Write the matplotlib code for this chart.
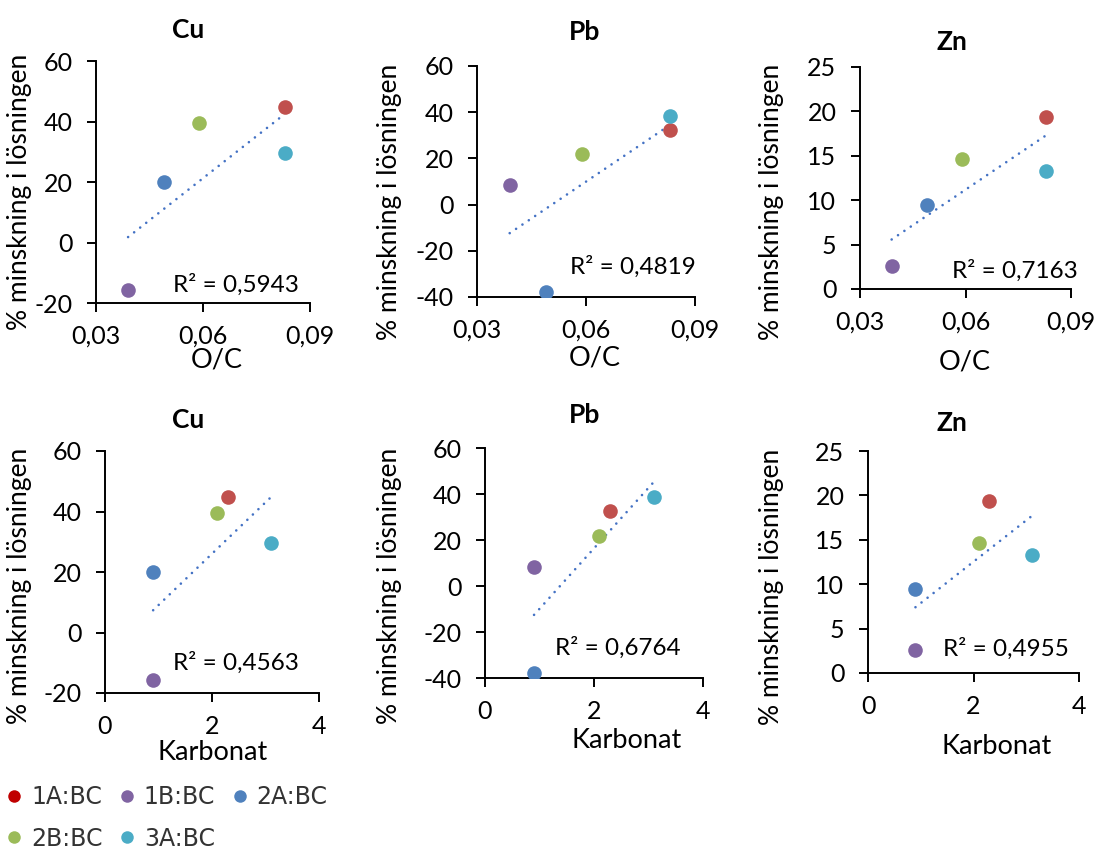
import numpy as np
import matplotlib
matplotlib.use("Agg")
import matplotlib.pyplot as plt
from matplotlib.lines import Line2D

plt.rcParams['font.family'] = ['Lato', 'DejaVu Sans']
plt.rcParams['axes.unicode_minus'] = False

# ---- data ----
samples = ["1A:BC", "1B:BC", "2A:BC", "2B:BC", "3A:BC"]
colors = ["#C0504D", "#8064A2", "#4F81BD", "#9BBB59", "#4BACC6"]
legend_colors = ["#C00000", "#8064A2", "#4F81BD", "#9BBB59", "#4BACC6"]
oc = [0.083, 0.039, 0.049, 0.059, 0.083]
karbonat = [2.3, 0.9, 0.9, 2.1, 3.1]
cu = [44.7, -15.7, 20.1, 39.6, 29.6]
pb = [32.5, 8.4, -37.8, 21.9, 38.5]
zn = [19.4, 2.6, 9.5, 14.6, 13.3]
r2_oc = ["R² = 0,5943", "R² = 0,4819", "R² = 0,7163"]
r2_karb = ["R² = 0,4563", "R² = 0,6764", "R² = 0,4955"]
metals = ["Cu", "Pb", "Zn"]
oc_ticks = [0.03, 0.06, 0.09]
oc_ticklabels = ["0,03", "0,06", "0,09"]
karb_ticks = [0, 2, 4]
ylims = [(-20, 60), (-40, 60), (0, 25)]
ysteps = [20, 20, 5]

W, H = 1094, 852
fig = plt.figure(figsize=(W / 100, H / 100), dpi=100)

def px_axes(x0, x1, y0, y1):
    return fig.add_axes([x0 / W, 1 - y1 / H, (x1 - x0) / W, (y1 - y0) / H])

axes_px = [
    [(96, 310, 61, 303), (477, 695, 66, 297), (860, 1071, 67, 289)],
    [(105, 319, 451, 693), (485, 703, 448, 678), (868, 1079, 451, 673)],
]
title_px = [[(188, 30), (585, 32), (952, 42)], [(188, 420), (585, 415), (952, 423)]]
ylab_px = [[(20, 192), (390, 202), (772, 202)], [(20, 586), (390, 586), (772, 587)]]
xlab_px = [[(217, 360), (595, 358), (965, 362)], [(213, 753), (627, 740), (997, 747)]]
r2_pos = [[(0.0516, -14), (0.0556, -27), (0.0562, 2.1)],
          [(1.27, -10), (1.28, -27), (1.42, 2.7)]]

yvals = [cu, pb, zn]
for row in range(2):
    xs = oc if row == 0 else karbonat
    for col in range(3):
        ax = px_axes(*axes_px[row][col])
        ys = yvals[col]
        # trendline
        coef = np.polyfit(xs, ys, 1)
        xl = np.array([min(xs), max(xs)])
        ax.plot(xl, np.polyval(coef, xl), color="#4472C4", lw=1.9,
                linestyle=(0, (0.01, 2.9)), dash_capstyle='round', zorder=2)
        for x, y, c in zip(xs, ys, colors):
            ax.plot([x], [y], 'o', color=c, markersize=10.5, markeredgewidth=0, zorder=3)
        lo, hi = ylims[col]
        ax.set_ylim(lo, hi)
        ax.set_yticks(np.arange(lo, hi + 0.1, ysteps[col]))
        if row == 0:
            ax.set_xlim(0.03, 0.09)
            ax.set_xticks(oc_ticks)
            ax.set_xticklabels(oc_ticklabels)
        else:
            ax.set_xlim(0, 4)
            ax.set_xticks(karb_ticks)
        for s in ['top', 'right']:
            ax.spines[s].set_visible(False)
        for s in ['left', 'bottom']:
            ax.spines[s].set_linewidth(1.4)
            ax.spines[s].set_color('black')
        ax.tick_params(axis='both', direction='out', length=6.5, width=1.4,
                       labelsize=18, colors='black')
        ax.tick_params(axis='x', pad=9)
        ax.tick_params(axis='y', pad=10.5)
        ax.patch.set_visible(False)
        txt = (r2_oc if row == 0 else r2_karb)[col]
        rx, ry = r2_pos[row][col]
        ax.text(rx, ry, txt, fontsize=17.5, ha='left', va='center', color='black')
        tx, ty = title_px[row][col]
        fig.text(tx / W, 1 - ty / H, metals[col], fontsize=19, fontweight='bold',
                 ha='center', va='center')
        lx, ly = ylab_px[row][col]
        fig.text(lx / W, 1 - ly / H, "% minskning i lösningen", fontsize=19,
                 rotation=90, ha='center', va='center')
        xx, xy = xlab_px[row][col]
        fig.text(xx / W, 1 - xy / H, "O/C" if row == 0 else "Karbonat",
                 fontsize=19.5, ha='center', va='center')

# legend (row-major order emulated for matplotlib's column fill)
handles = [Line2D([], [], marker='o', linestyle='none', color=c, markersize=9,
                  markeredgewidth=0) for c in legend_colors]
order = [0, 3, 1, 4, 2]
leg = fig.legend([handles[i] for i in order], [samples[i] for i in order],
                 ncol=3, loc='upper left', bbox_to_anchor=(5 / W, 1 - 785 / H),
                 frameon=False, handletextpad=0.3, columnspacing=0.65,
                 handlelength=0.8, labelspacing=0.75, borderpad=0, borderaxespad=0,
                 prop={'family': 'DejaVu Sans', 'size': 17})
for t in leg.get_texts():
    t.set_color('#333333')

fig.savefig("out.png", dpi=100)
